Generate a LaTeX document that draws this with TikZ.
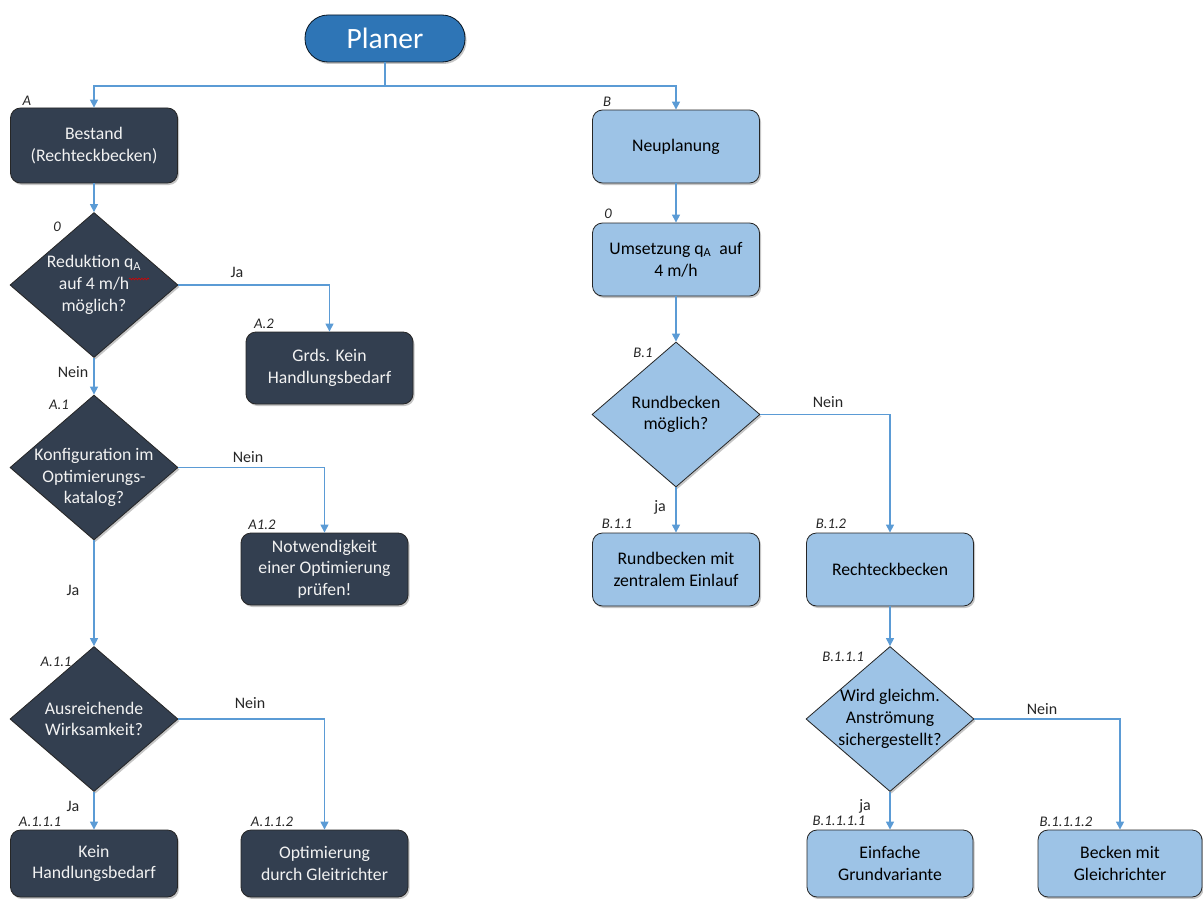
\documentclass[tikz,border=0pt]{standalone}
\usepackage{fontspec}
\setmainfont{Carlito}
\usetikzlibrary{shapes.geometric,arrows.meta,shadows,decorations.pathmorphing}
\definecolor{dk}{HTML}{333F50}
\definecolor{lt}{HTML}{9DC3E6}
\definecolor{plc}{HTML}{2E75B6}
\definecolor{ln}{HTML}{5B9BD5}
\definecolor{wt}{HTML}{F2F2F2}
\definecolor{tx}{HTML}{262626}
\begin{document}
\begin{tikzpicture}[x=1pt,y=-1pt,
 base/.style={draw=black!85, line width=0.8pt, drop shadow={shadow xshift=1.5pt,shadow yshift=-2pt,opacity=.45}},
 boxtxt/.style={font=\fontsize{17.7}{21.7}\selectfont, align=center},
 dbox/.style={base, rectangle, rounded corners=10pt, fill=dk, text=wt, boxtxt, minimum width=167pt, minimum height=73pt, inner sep=2pt},
 lbox/.style={dbox, fill=lt, text=black},
 ddia/.style={base, diamond, fill=dk, minimum width=168pt, minimum height=145pt, inner sep=0pt},
 ldia/.style={ddia, fill=lt},
 dt/.style={boxtxt, text=wt},
 ltt/.style={boxtxt, text=black},
 tag/.style={font=\fontsize{14.7}{17}\selectfont\itshape, text=tx},
 yn/.style={font=\fontsize{16}{19}\selectfont, text=tx},
 arr/.style={draw=ln, line width=1.2pt, -{Triangle[width=8pt,length=8pt]}},
 ]
\useasboundingbox (0,0) rectangle (1203,899);

% top
\node[base, draw=black!80!plc, fill=plc, rounded corners=23pt, minimum width=160pt, minimum height=47pt, text=white, font=\fontsize{29.5}{34}\selectfont] (pl) at (385,38.5) {Planer};
\coordinate (sp) at (385,86);

% left column
\node[dbox, minimum height=75pt] (A) at (94,145.5) {Bestand\\(Rechteckbecken)};
\node[tag] (tA) at (27,101) {A};
\node[ddia, label={[dt]center:Reduktion q\textsubscript{A}\\auf 4 m/h\\möglich?}] (d0) at (94,285) {};
\node[tag] (t0) at (57,227) {0};
\node[dbox, minimum height=72pt] (A2) at (329.5,368) {Grds. Kein\\Handlungsbedarf};
\node[tag] (tA2) at (264,324) {A.2};
\node[ddia, label={[dt,yshift=-10pt]center:Konfiguration im\\Optimierungs-\\katalog?}] (d1) at (94,467.5) {};
\node[tag] (tA1) at (59,405) {A.1};
\node[dbox, minimum height=72pt] (A12) at (324.5,569) {Notwendigkeit\\einer Optimierung\\prüfen!};
\node[tag] (tA12) at (262,525) {A1.2};
\node[ddia, label={[dt]center:Ausreichende\\Wirksamkeit?}] (d11) at (94,719) {};
\node[tag] (tA11) at (56,662) {A.1.1};
\node[dbox, minimum height=67pt] (A111) at (94,863.5) {Kein\\Handlungsbedarf};
\node[tag] (tA111) at (40,822) {A.1.1.1};
\node[dbox, minimum height=67pt] (A112) at (324.5,863.5) {Optimierung\\durch Gleitrichter};
\node[tag] (tA112) at (272,822) {A.1.1.2};

% right column
\node[lbox] (B) at (676,146.5) {Neuplanung};
\node[tag] (tB) at (607,102) {B};
\node[lbox] (U) at (676,259.5) {Umsetzung q\textsubscript{A}~ auf\\4 m/h};
\node[tag] (tU) at (608,214) {0};
\node[ldia, label={[ltt]center:Rundbecken\\möglich?}] (dB1) at (676,414.5) {};
\node[tag] (tB1) at (643,353) {B.1};
\node[lbox] (B11) at (676,569.5) {Rundbecken mit\\zentralem Einlauf};
\node[tag] (tB11) at (617,524) {B.1.1};
\node[lbox] (B12) at (890,569.5) {Rechteckbecken};
\node[tag] (tB12) at (831,524) {B.1.2};
\node[ldia, label={[ltt]center:Wird gleichm.\\Anströmung\\sichergestellt?}] (dB111) at (890,719) {};
\node[tag] (tB111) at (843,657) {B.1.1.1};
\node[lbox, minimum height=67pt, minimum width=166pt] (B1111) at (890,863.5) {Einfache\\Grundvariante};
\node[tag] (tB1111) at (839,821) {B.1.1.1.1};
\node[lbox, minimum height=67pt, minimum width=164pt] (B1112) at (1120,863.5) {Becken mit\\Gleichrichter};
\node[tag] (tB1112) at (1066,822) {B.1.1.1.2};

% spell-check squiggle
\draw[red!85!black, line width=0.6pt, decorate, decoration={snake, amplitude=0.9pt, segment length=3pt}] (129,279) -- (149,279);

% connectors
\draw[arr] (pl.south) -- (sp) -| (A.north);
\draw[arr] (sp) -| (B.north);
\draw[arr] (A.south) -- (d0.north);
\draw[arr] (d0.east) -| (A2.north);
\draw[arr] (d0.south) -- (d1.north);
\draw[arr] (d1.east) -| (A12.north);
\draw[arr] (d1.south) -- (d11.north);
\draw[arr] (d11.east) -| (A112.north);
\draw[arr] (d11.south) -- (A111.north);
\draw[arr] (B.south) -- (U.north);
\draw[arr] (U.south) -- (dB1.north);
\draw[arr] (dB1.east) -| (B12.north);
\draw[arr] (dB1.south) -- (B11.north);
\draw[arr] (B12.south) -- (dB111.north);
\draw[arr] (dB111.east) -| (B1112.north);
\draw[arr] (dB111.south) -- (B1111.north);

% branch labels
\node[yn] (y1) at (237,272) {Ja};
\node[yn] (y2) at (73,372) {Nein};
\node[yn] (y3) at (248,457) {Nein};
\node[yn] (y4) at (73,590) {Ja};
\node[yn] (y5) at (250,703) {Nein};
\node[yn] (y6) at (73,806) {Ja};
\node[yn] (y7) at (828,402) {Nein};
\node[yn] (y8) at (660,507) {ja};
\node[yn] (y9) at (1042,709) {Nein};
\node[yn] (y10) at (865,806) {ja};
\end{tikzpicture}
\end{document}
